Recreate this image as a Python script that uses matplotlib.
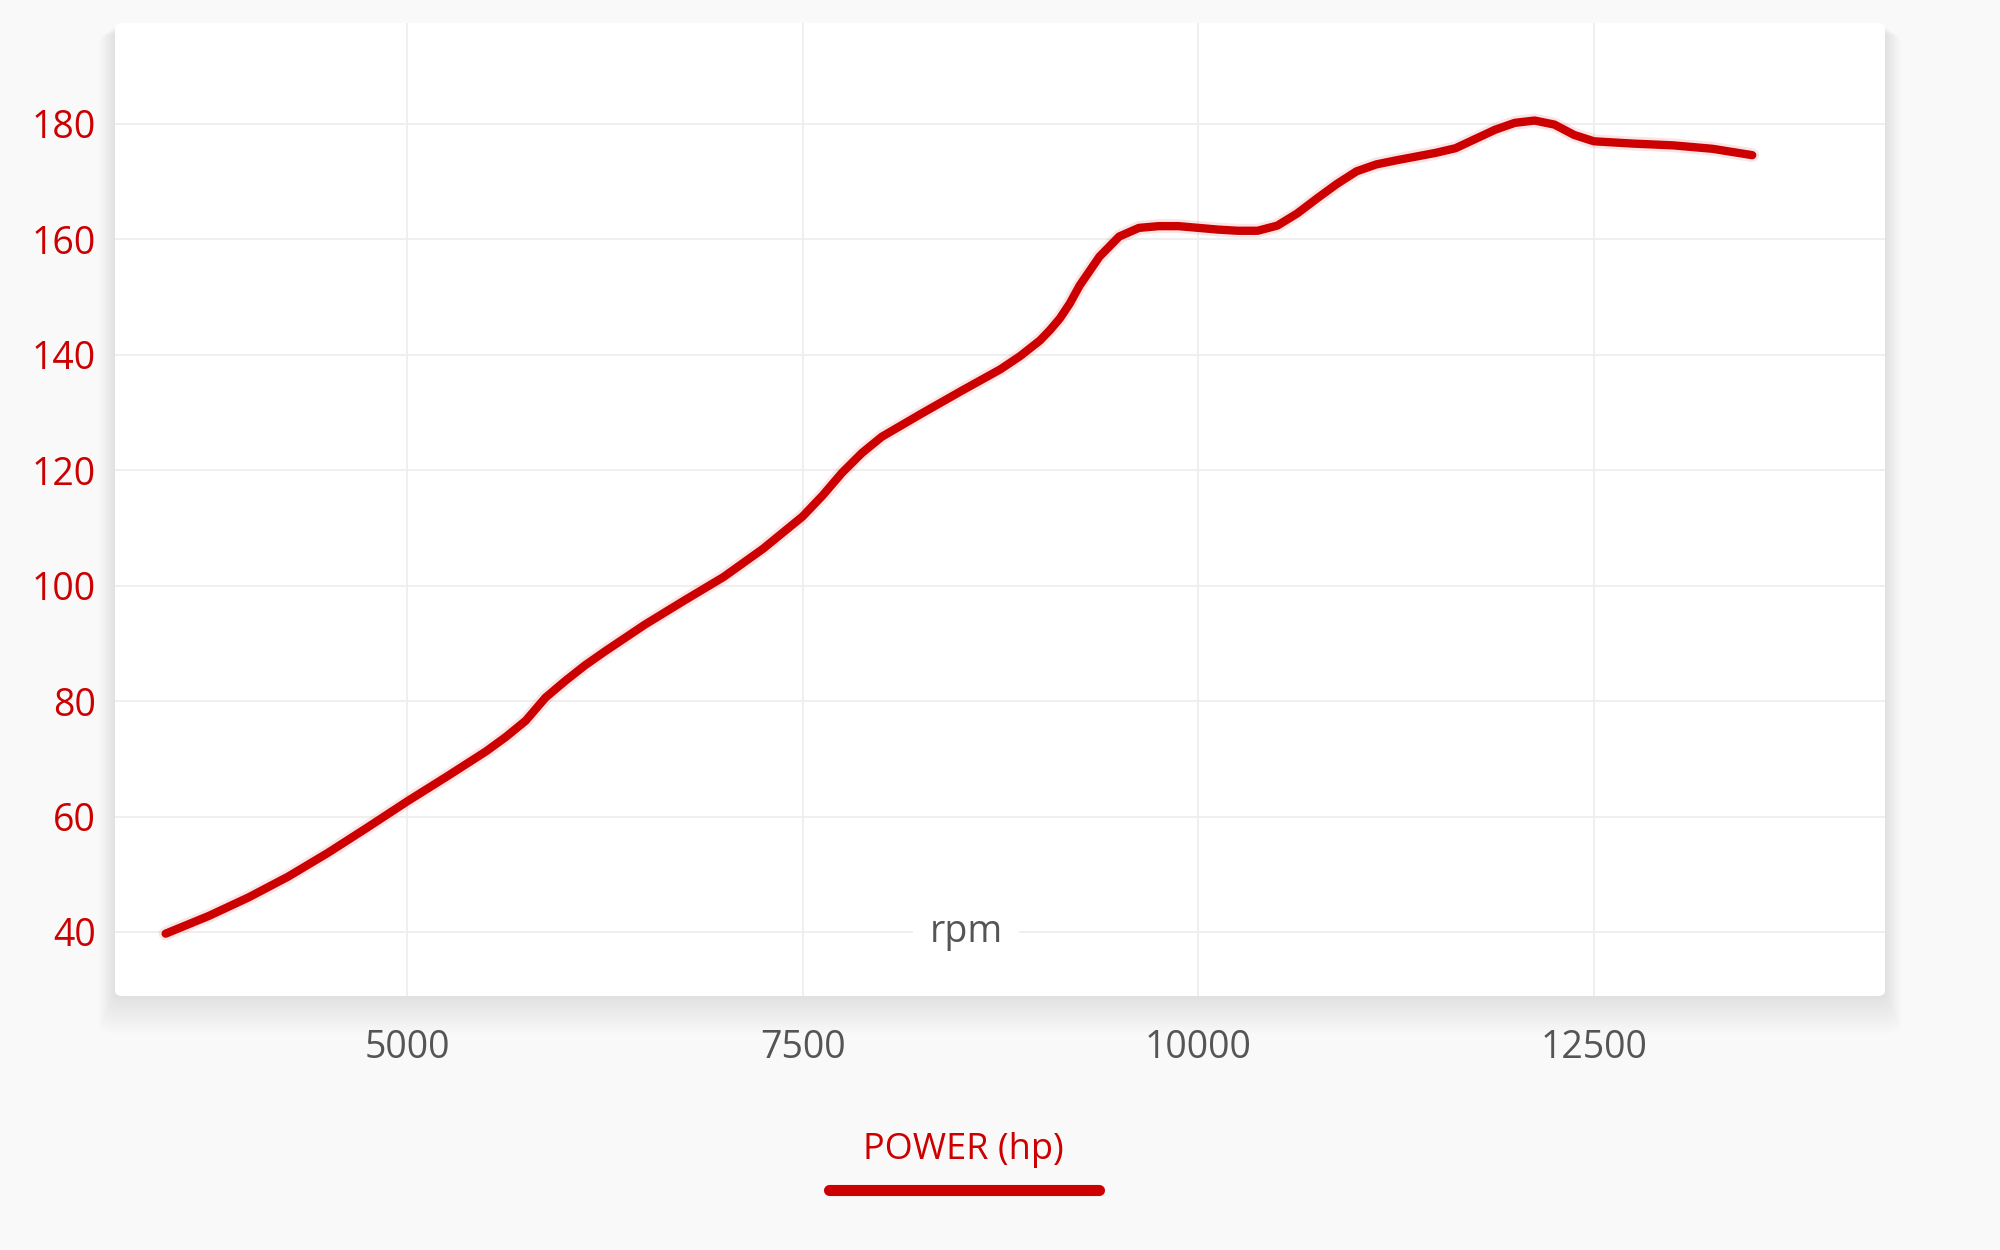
import matplotlib.pyplot as plt
import matplotlib.patheffects as pe
from matplotlib.patches import FancyBboxPatch
from matplotlib.lines import Line2D

plt.rcParams['font.family'] = ['Open Sans', 'DejaVu Sans']

# dyno curve
rpm = [3475, 3750, 4000, 4250, 4500, 4750, 5000, 5250, 5500, 5625,
       5750, 5875, 6000, 6125, 6250, 6500, 6750, 7000, 7250, 7500,
       7625, 7750, 7875, 8000, 8250, 8500, 8750, 8875, 9000, 9063,
       9125, 9188, 9250, 9375, 9500, 9625, 9750, 9875, 10000, 10125,
       10250, 10375, 10500, 10625, 10750, 10875, 11000, 11125, 11250, 11500,
       11625, 11750, 11875, 12000, 12125, 12250, 12375, 12500, 12750, 13000,
       13250, 13500]
power_hp = [39.7, 42.8, 46.0, 49.6, 53.7, 58.1, 62.6, 66.9, 71.3, 73.8,
            76.6, 80.6, 83.5, 86.2, 88.6, 93.2, 97.4, 101.5, 106.4, 112.0,
            115.6, 119.6, 123.0, 125.8, 129.8, 133.7, 137.5, 139.8, 142.5, 144.3,
            146.3, 148.9, 152.0, 157.0, 160.5, 162.0, 162.3, 162.3, 162.0, 161.7,
            161.5, 161.5, 162.4, 164.5, 167.1, 169.6, 171.8, 173.0, 173.7, 175.0,
            175.8, 177.4, 179.0, 180.2, 180.6, 179.9, 178.1, 177.0, 176.6, 176.3,
            175.7, 174.6]

x_ticks = [5000, 7500, 10000, 12500]
y_ticks = [40, 60, 80, 100, 120, 140, 160, 180]
series_label = 'POWER (hp)'
x_title = 'rpm'

red = '#cc0000'
grey_txt = '#555555'

fig = plt.figure(figsize=(20, 12.5), dpi=100, facecolor='#f9f9f9')

# white card with a soft shadow
card = [0.0575, 0.2032, 0.885, 0.7784]
for i in range(12):
    g = 0.0013 * (i + 1)
    sh = FancyBboxPatch((card[0] - g * 0.5, card[1] - g * 1.9), card[2] + g * 1.0, card[3] + g * 1.3,
                        boxstyle='round,pad=0,rounding_size=0.006', transform=fig.transFigure,
                        fc='black', ec='none', alpha=0.009, zorder=-3)
    fig.add_artist(sh)
bg = FancyBboxPatch((card[0], card[1]), card[2], card[3],
                    boxstyle='round,pad=0,rounding_size=0.004', transform=fig.transFigure,
                    fc='white', ec='none', zorder=-2)
fig.add_artist(bg)

ax = fig.add_axes(card)
ax.patch.set_visible(False)
for s in ax.spines.values():
    s.set_visible(False)

ax.plot(rpm, power_hp, color=red, lw=6, solid_capstyle='round', solid_joinstyle='round',
        path_effects=[pe.Stroke(linewidth=10, foreground=red, alpha=0.1), pe.Normal()], zorder=3)

ax.set_xlim(3155, 14339)
ax.set_ylim(28.9, 197.5)
ax.set_xticks(x_ticks)
ax.set_yticks(y_ticks)
ax.grid(True, color='#eeeeee', lw=1.3)
ax.set_axisbelow(True)
ax.tick_params(axis='both', length=0, labelsize=27)
ax.tick_params(axis='x', pad=24, labelcolor=grey_txt)
ax.tick_params(axis='y', pad=14, labelcolor=red)

ax.text(0.481, 40, x_title, transform=ax.get_yaxis_transform(), ha='center', va='center',
        fontsize=27, color=grey_txt, zorder=2,
        bbox=dict(fc='white', ec='none', pad=12))

# legend: text over a thick bar
fig.text(963 / 2000, 1 - 1150 / 1250, series_label, ha='center', va='center',
         fontsize=26, color=red)
fig.add_artist(Line2D([829 / 2000, 1099 / 2000], [1 - 1190 / 1250] * 2, transform=fig.transFigure,
                      color=red, lw=8, solid_capstyle='round'))

fig.savefig('out.png', dpi=100, facecolor=fig.get_facecolor())
